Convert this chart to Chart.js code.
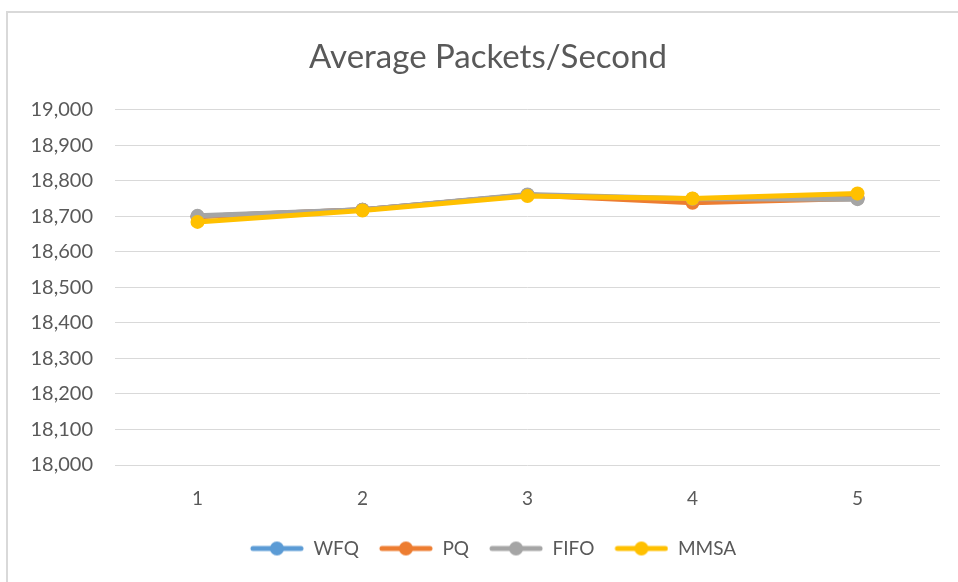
<!DOCTYPE html>
<html>
<head>
<meta charset="utf-8">
<script src="https://cdn.jsdelivr.net/npm/chart.js@4.4.0/dist/chart.umd.min.js"></script>
<style>
  html, body { margin: 0; padding: 0; background: #ffffff; }
  #wrap { position: relative; width: 958px; height: 582px; }
</style>
</head>
<body>
<div id="wrap"><canvas id="chart" width="958" height="582"></canvas></div>
<script>
// Runs 1..5 and average packets per second for each queueing scheme
const categories = ['1', '2', '3', '4', '5'];
const wfq  = [18699, 18718, 18760, 18743, 18750];
const pq   = [18699, 18718, 18760, 18738, 18750];
const fifo = [18701, 18718, 18761, 18749, 18748];
const mmsa = [18684, 18716, 18757, 18750, 18764];
const seriesNames = ['WFQ', 'PQ', 'FIFO', 'MMSA'];
const seriesColors = ['#5b9bd5', '#ed7d31', '#a5a5a5', '#ffc000'];
const yTicks = [18000, 18100, 18200, 18300, 18400, 18500, 18600, 18700, 18800, 18900, 19000];

const FONT = 'Lato, "Open Sans", sans-serif';
const TEXT = '#595959';

// legend marker: short line with a dot in the middle, with a little room on the left
const MARK_GAP = 10, MARK_LEN = 54;
function markerImage(color) {
  const c = document.createElement('canvas');
  c.width = MARK_GAP + MARK_LEN; c.height = 16;
  const g = c.getContext('2d');
  g.strokeStyle = color; g.lineWidth = 5; g.lineCap = 'round';
  g.beginPath(); g.moveTo(MARK_GAP + 3, 8); g.lineTo(MARK_GAP + MARK_LEN - 3, 8); g.stroke();
  g.fillStyle = color;
  g.beginPath(); g.arc(MARK_GAP + MARK_LEN / 2, 8, 7, 0, Math.PI * 2); g.fill();
  return c;
}

const seriesData = [wfq, pq, fifo, mmsa];
const datasets = seriesNames.map((name, i) => ({
  label: name,
  data: seriesData[i],
  borderColor: seriesColors[i],
  backgroundColor: seriesColors[i],
  borderWidth: 5,
  pointRadius: 7,
  pointHoverRadius: 7,
  pointBorderWidth: 0,
  tension: 0,
  order: seriesNames.length - i,   // later series painted on top
  markerImg: markerImage(seriesColors[i])
}));

// light frame along the top and left edges
const framePlugin = {
  id: 'frame',
  beforeDraw(chart) {
    const ctx = chart.ctx;
    ctx.save();
    ctx.fillStyle = '#ffffff';
    ctx.fillRect(0, 0, chart.width, chart.height);
    ctx.strokeStyle = '#d9d9d9';
    ctx.lineWidth = 2;
    ctx.beginPath();
    ctx.moveTo(7, chart.height);
    ctx.lineTo(7, 12);
    ctx.lineTo(chart.width, 12);
    ctx.stroke();
    ctx.restore();
  }
};

new Chart(document.getElementById('chart'), {
  type: 'line',
  data: { labels: categories, datasets },
  plugins: [framePlugin],
  options: {
    responsive: false,
    animation: false,
    layout: { padding: { left: 36, right: 18, top: 0, bottom: 14 } },
    plugins: {
      title: {
        display: true,
        text: 'Average Packets/Second',
        color: TEXT,
        font: { family: FONT, size: 33, weight: 'normal' },
        padding: { top: 38, bottom: 32 }
      },
      legend: {
        position: 'bottom',
        labels: {
          color: TEXT,
          font: { family: FONT, size: 19 },
          usePointStyle: true,
          pointStyleWidth: MARK_GAP + MARK_LEN,
          boxHeight: 16,
          padding: 10,
          sort: (a, b) => a.datasetIndex - b.datasetIndex,
          generateLabels(chart) {
            return chart.data.datasets.map((ds, i) => ({
              text: ds.label,
              fillStyle: ds.borderColor,
              strokeStyle: ds.borderColor,
              fontColor: TEXT,
              lineWidth: 0,
              pointStyle: ds.markerImg,
              hidden: false,
              datasetIndex: i
            }));
          }
        }
      },
      tooltip: { enabled: false }
    },
    scales: {
      x: {
        offset: true,
        grid: { display: false, drawTicks: false },
        border: { display: false },
        ticks: { color: TEXT, font: { family: FONT, size: 19 }, padding: 22 },
        afterFit(scale) { scale.height = 64; }
      },
      y: {
        min: 18000,
        max: 19000,
        afterBuildTicks(scale) { scale.ticks = yTicks.map(v => ({ value: v })); },
        grid: { color: '#d9d9d9', lineWidth: 1, drawTicks: false },
        border: { display: false },
        ticks: {
          color: TEXT,
          font: { family: FONT, size: 20 },
          padding: 22,
          callback: v => v.toLocaleString('en-US')
        },
        afterFit(scale) {
          scale.width = 79;
          // the labels reach a little past the axis box on the left; don't clip them
          scale._computeLabelArea = () => undefined;
        }
      }
    }
  }
});
</script>
</body>
</html>
